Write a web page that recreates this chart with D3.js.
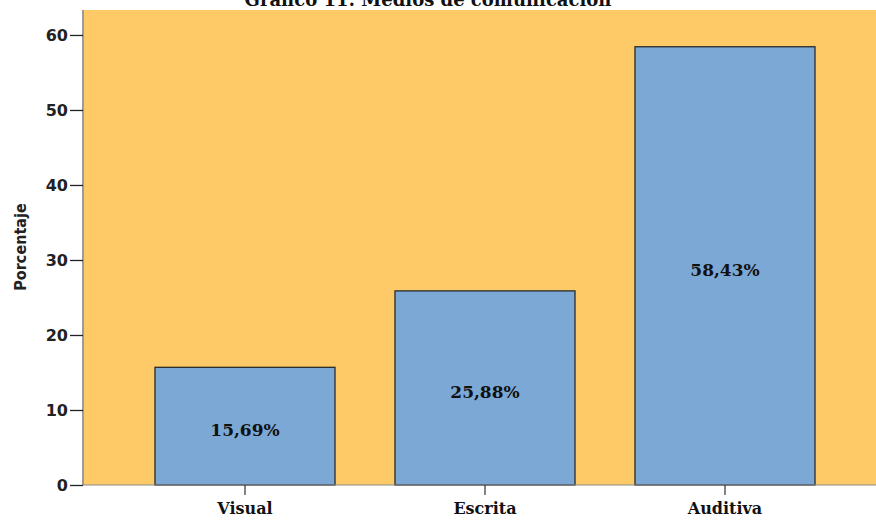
<!DOCTYPE html>
<html>
<head>
<meta charset="utf-8">
<script src="https://cdn.jsdelivr.net/npm/d3@7/dist/d3.min.js"></script>
<style>
  html, body { margin: 0; padding: 0; background: #ffffff; }
  svg { display: block; }
</style>
</head>
<body>
<script>
// Medios de comunicación: porcentaje por tipo
const categories = ["Visual", "Escrita", "Auditiva"];
const percentages = [15.69, 25.88, 58.43];
const valueLabels = ["15,69%", "25,88%", "58,43%"];
const yTicks = [0, 10, 20, 30, 40, 50, 60];
const chartTitle = "Gráfico 11: Medios de comunicación";
const yTitle = "Porcentaje";

const W = 876, H = 520;
const plot = { left: 84, right: 876, top: 10, bottom: 485 };
const serif = "'DejaVu Serif', 'Liberation Serif', serif";

const svg = d3.select("body").append("svg")
  .attr("width", W).attr("height", H);

const y = d3.scaleLinear()
  .domain([0, 63.33])
  .range([plot.bottom, plot.top]);

const x = d3.scaleBand()
  .domain(categories)
  .range([125, 845])
  .paddingInner(0.25)
  .paddingOuter(0.125);

// plot background
svg.append("rect")
  .attr("x", plot.left).attr("y", plot.top)
  .attr("width", plot.right - plot.left)
  .attr("height", plot.bottom - plot.top)
  .attr("fill", "#fec967");

// bars
svg.append("g").selectAll("rect")
  .data(categories)
  .join("rect")
  .attr("x", d => x(d))
  .attr("y", (d, i) => y(percentages[i]))
  .attr("width", x.bandwidth())
  .attr("height", (d, i) => y(0) - y(percentages[i]))
  .attr("fill", "#7ba8d5")
  .attr("stroke", "#2a2a2a")
  .attr("stroke-width", 1.3);

// value labels inside bars
svg.append("g").selectAll("text")
  .data(categories)
  .join("text")
  .attr("x", d => x(d) + x.bandwidth() / 2)
  .attr("y", (d, i) => (y(percentages[i]) + y(0)) / 2 + 4)
  .attr("dominant-baseline", "central")
  .attr("text-anchor", "middle")
  .attr("font-family", serif)
  .attr("font-weight", "bold")
  .attr("font-size", "17px")
  .attr("fill", "#111")
  .text((d, i) => valueLabels[i]);

// y axis
const yAxis = svg.append("g")
  .attr("transform", `translate(${plot.left - 1},0)`)
  .call(d3.axisLeft(y).tickValues(yTicks).tickSize(13).tickPadding(2).tickFormat(d3.format("d")));
yAxis.select(".domain").attr("stroke", "#7a7a7a").attr("stroke-width", 1.5)
  .attr("d", `M0,${plot.top}V${plot.bottom}`);
yAxis.selectAll(".tick line").attr("stroke", "#222").attr("stroke-width", 1.3);
yAxis.selectAll(".tick text")
  .attr("font-family", "'DejaVu Sans', sans-serif")
  .attr("font-weight", "bold")
  .attr("font-size", "16px")
  .attr("fill", "#222");

// x axis
const xAxis = svg.append("g")
  .attr("transform", `translate(0,${plot.bottom})`)
  .call(d3.axisBottom(x).tickSize(10).tickPadding(8));
xAxis.select(".domain").attr("stroke", "#8a8a8a").attr("stroke-width", 1.2)
  .attr("d", `M${plot.left - 1},0H${plot.right}`);
xAxis.selectAll(".tick line").attr("stroke", "#333").attr("stroke-width", 1.2);
xAxis.selectAll(".tick text")
  .attr("font-family", serif)
  .attr("font-weight", "bold")
  .attr("font-size", "16px")
  .attr("fill", "#111");

// y axis title
svg.append("text")
  .attr("transform", `translate(20,247) rotate(-90)`)
  .attr("text-anchor", "middle")
  .attr("dominant-baseline", "central")
  .attr("font-family", "'DejaVu Sans Condensed', 'DejaVu Sans', sans-serif")
  .attr("font-stretch", "condensed")
  .attr("font-weight", "bold")
  .attr("font-size", "16px")
  .attr("fill", "#222")
  .text(yTitle);

// chart title, sitting right above the plot frame
svg.append("text")
  .attr("x", 428)
  .attr("y", 6)
  .attr("text-anchor", "middle")
  .attr("font-family", serif)
  .attr("font-weight", "bold")
  .attr("font-size", "18px")
  .attr("fill", "#111")
  .text(chartTitle);
</script>
</body>
</html>
